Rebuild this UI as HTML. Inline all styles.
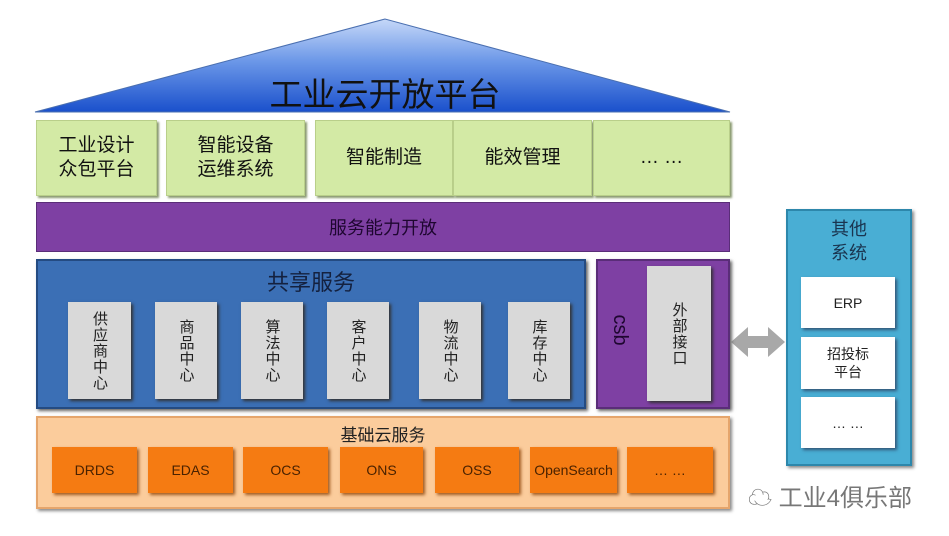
<!DOCTYPE html>
<html><head><meta charset="utf-8"><style>
body{margin:0;width:949px;height:536px;background:#fff;position:relative;overflow:hidden;font-family:"Liberation Sans","Noto Sans CJK SC",sans-serif}
.a{position:absolute;box-sizing:border-box;display:flex;align-items:center;justify-content:center;text-align:center}
.g{background:#d3eaa5;border:1px solid #b9cf8a;box-shadow:2px 2px 2px #8a9a70;font-size:19px;line-height:24px;color:#111}
.c{background:#d9d9d9;box-shadow:2px 2px 3px #333;font-size:15px;line-height:17px;color:#222;writing-mode:vertical-rl;letter-spacing:1px}
.o{background:#f57b12;box-shadow:2px 2px 3px #a05a20;font-size:14px;color:#4a2200}
.w{background:#fff;box-shadow:2px 2px 3px #357;font-size:14px;line-height:18px;color:#222}
</style></head><body>
<svg class="a" style="left:0;top:0;width:949px;height:536px" width="949" height="536">
<defs><linearGradient id="r" x1="0" y1="0" x2="0" y2="1"><stop offset="0" stop-color="#c6d8f8"/><stop offset="0.45" stop-color="#6c98e8"/><stop offset="1" stop-color="#1a50cc"/></linearGradient></defs>
<polygon points="385,19 35,112 730,112" fill="url(#r)" stroke="#4a6fb0" stroke-width="1"/>
<polygon points="731,342 748,327 748,336 768,336 768,327 785,342 768,357 768,348 748,348 748,357" fill="#a8a8a8"/>
</svg>
<div class="a" style="left:200px;top:70px;width:370px;height:44px;font-size:33px;color:#111">工业云开放平台</div>
<div class="a g" style="left:36px;top:120px;width:121px;height:76px">工业设计<br>众包平台</div>
<div class="a g" style="left:166px;top:120px;width:139px;height:76px">智能设备<br>运维系统</div>
<div class="a g" style="left:315px;top:120px;width:138px;height:76px">智能制造</div>
<div class="a g" style="left:453px;top:120px;width:139px;height:76px">能效管理</div>
<div class="a g" style="left:593px;top:120px;width:137px;height:76px">… …</div>
<div class="a" style="left:36px;top:202px;width:694px;height:50px;background:#7e40a3;border:1px solid #5a2d78;font-size:18px;color:#1e0630">服务能力开放</div>
<div class="a" style="left:36px;top:259px;width:550px;height:150px;background:#3b6fb5;border:2px solid #244b82;box-shadow:2px 2px 3px #666"></div>
<div class="a" style="left:36px;top:266px;width:550px;height:30px;font-size:22px;color:#14213f">共享服务</div>
<div class="a c" style="left:68px;top:302px;width:63px;height:97px">供应商中心</div>
<div class="a c" style="left:155px;top:302px;width:62px;height:97px">商品中心</div>
<div class="a c" style="left:241px;top:302px;width:62px;height:97px">算法中心</div>
<div class="a c" style="left:327px;top:302px;width:62px;height:97px">客户中心</div>
<div class="a c" style="left:419px;top:302px;width:62px;height:97px">物流中心</div>
<div class="a c" style="left:508px;top:302px;width:62px;height:97px">库存中心</div>
<div class="a" style="left:596px;top:259px;width:134px;height:150px;background:#7e40a3;border:2px solid #5a2d78;box-shadow:2px 2px 3px #666"></div>
<div class="a" style="left:605px;top:310px;width:30px;height:40px;font-size:20px;color:#1e0630;transform:rotate(90deg)">csb</div>
<div class="a c" style="left:647px;top:266px;width:64px;height:135px">外部接口</div>
<div class="a" style="left:786px;top:209px;width:126px;height:257px;background:#49aed4;border:2px solid #2d87ab;box-shadow:2px 2px 3px #888"></div>
<div class="a" style="left:786px;top:216px;width:126px;height:50px;font-size:18px;line-height:24px;color:#1a3550">其他<br>系统</div>
<div class="a w" style="left:801px;top:277px;width:94px;height:51px">ERP</div>
<div class="a w" style="left:801px;top:337px;width:94px;height:52px">招投标<br>平台</div>
<div class="a w" style="left:801px;top:397px;width:94px;height:51px">… …</div>
<div class="a" style="left:36px;top:416px;width:694px;height:93px;background:#fbcc9c;border:2px solid #e5a56c;box-shadow:2px 2px 3px #888"></div>
<div class="a" style="left:36px;top:421px;width:694px;height:24px;font-size:17px;color:#222">基础云服务</div>
<div class="a o" style="left:52px;top:447px;width:85px;height:46px">DRDS</div>
<div class="a o" style="left:148px;top:447px;width:85px;height:46px">EDAS</div>
<div class="a o" style="left:243px;top:447px;width:85px;height:46px">OCS</div>
<div class="a o" style="left:340px;top:447px;width:83px;height:46px">ONS</div>
<div class="a o" style="left:435px;top:447px;width:84px;height:46px">OSS</div>
<div class="a o" style="left:530px;top:447px;width:87px;height:46px">OpenSearch</div>
<div class="a o" style="left:627px;top:447px;width:86px;height:46px">… …</div>
<div class="a" style="left:748px;top:478px;width:190px;height:34px;font-size:24px;color:#777;justify-content:flex-start">☁ 工业4俱乐部</div>
</body></html>
